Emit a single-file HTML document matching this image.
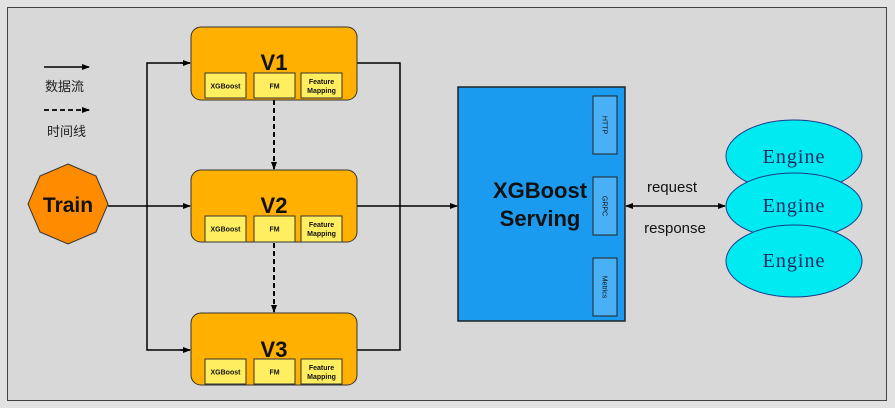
<!DOCTYPE html>
<html><head><meta charset="utf-8"><style>
html,body{margin:0;padding:0;background:#e2e2e2;}
svg{display:block}
</style></head><body>
<svg width="895" height="408" viewBox="0 0 895 408" xmlns="http://www.w3.org/2000/svg" font-family="Liberation Sans, Noto Sans CJK SC, sans-serif">
<defs>
<marker id="a" markerWidth="8" markerHeight="8" refX="7" refY="4" orient="auto" markerUnits="userSpaceOnUse"><path d="M0,1 L8,4 L0,7 Z" fill="#000"/></marker>
<marker id="b" markerWidth="8" markerHeight="8" refX="1" refY="4" orient="auto" markerUnits="userSpaceOnUse"><path d="M8,1 L0,4 L8,7 Z" fill="#000"/></marker>
</defs>
<rect x="0" y="0" width="895" height="408" fill="#e2e2e2"/>
<rect x="7.5" y="7.5" width="879" height="393" fill="#d8d8d8" stroke="#444" stroke-width="1"/>
<line x1="44" y1="67" x2="89" y2="67" stroke="#000" stroke-width="1.5" marker-end="url(#a)"/>
<text x="45" y="91" font-size="13" fill="#222">数据流</text>
<line x1="44" y1="110" x2="89" y2="110" stroke="#000" stroke-width="1.8" stroke-dasharray="5,3" marker-end="url(#a)"/>
<text x="47" y="136" font-size="13" fill="#222">时间线</text>
<g stroke="#000" stroke-width="1.5" fill="none">
<line x1="108" y1="206" x2="147" y2="206"/>
<polyline points="190,63 147,63 147,350 190,350"/>
<line x1="147" y1="206" x2="190" y2="206" marker-end="url(#a)"/>
<line x1="180" y1="63" x2="190" y2="63" marker-end="url(#a)"/>
<line x1="180" y1="350" x2="190" y2="350" marker-end="url(#a)"/>
<polyline points="357,63 400,63 400,350 357,350"/>
<line x1="357" y1="206" x2="457" y2="206" marker-end="url(#a)"/>
<line x1="274" y1="100" x2="274" y2="169" stroke-width="2" stroke-dasharray="5,3" marker-end="url(#a)"/>
<line x1="274" y1="243" x2="274" y2="312" stroke-width="2" stroke-dasharray="5,3" marker-end="url(#a)"/>
<line x1="626" y1="206" x2="725" y2="206" marker-start="url(#b)" marker-end="url(#a)"/>
</g>
<polygon points="68,164 96,176 108,204 96,232 68,244 40,232 28,204 40,176" fill="#ff8c00" stroke="#333" stroke-width="1"/>
<text x="68" y="212" font-size="21" font-weight="bold" text-anchor="middle" fill="#111">Train</text>
<g font-size="7" font-weight="bold" text-anchor="middle" fill="#111">
<rect x="191" y="27" width="166" height="73" rx="10" fill="#ffb000" stroke="#333"/>
<text x="274" y="70" font-size="22" font-weight="bold">V1</text>
<rect x="205" y="73" width="41" height="25" fill="#ffee60" stroke="#333"/><text x="225.5" y="88.5">XGBoost</text>
<rect x="254" y="73" width="41" height="25" fill="#ffee60" stroke="#333"/><text x="274.5" y="88.5">FM</text>
<rect x="301" y="73" width="41" height="25" fill="#ffee60" stroke="#333"/><text x="321.5" y="84">Feature</text><text x="321.5" y="93">Mapping</text>
<rect x="191" y="170" width="166" height="72" rx="10" fill="#ffb000" stroke="#333"/>
<text x="274" y="213" font-size="22" font-weight="bold">V2</text>
<rect x="205" y="216" width="41" height="26" fill="#ffee60" stroke="#333"/><text x="225.5" y="231.5">XGBoost</text>
<rect x="254" y="216" width="41" height="26" fill="#ffee60" stroke="#333"/><text x="274.5" y="231.5">FM</text>
<rect x="301" y="216" width="41" height="26" fill="#ffee60" stroke="#333"/><text x="321.5" y="227">Feature</text><text x="321.5" y="236">Mapping</text>
<rect x="191" y="313" width="166" height="72" rx="10" fill="#ffb000" stroke="#333"/>
<text x="274" y="357" font-size="22" font-weight="bold">V3</text>
<rect x="205" y="359" width="41" height="25" fill="#ffee60" stroke="#333"/><text x="225.5" y="374.5">XGBoost</text>
<rect x="254" y="359" width="41" height="25" fill="#ffee60" stroke="#333"/><text x="274.5" y="374.5">FM</text>
<rect x="301" y="359" width="41" height="25" fill="#ffee60" stroke="#333"/><text x="321.5" y="370">Feature</text><text x="321.5" y="379">Mapping</text>
</g>
<rect x="458" y="87" width="167" height="234" fill="#1a9bf0" stroke="#222" stroke-width="1.5"/>
<text x="540" y="198" font-size="22" font-weight="bold" text-anchor="middle" fill="#111">XGBoost</text>
<text x="540" y="226" font-size="22" font-weight="bold" text-anchor="middle" fill="#111">Serving</text>
<g font-size="7" fill="#111" text-anchor="middle">
<rect x="593" y="96" width="24" height="58" fill="#4ab0f5" stroke="#222"/>
<text transform="translate(602.5,125) rotate(90)">HTTP</text>
<rect x="593" y="177" width="24" height="58" fill="#4ab0f5" stroke="#222"/>
<text transform="translate(602.5,206) rotate(90)">GRPC</text>
<rect x="593" y="258" width="24" height="58" fill="#4ab0f5" stroke="#222"/>
<text transform="translate(602.5,287) rotate(90)">Metrics</text>
</g>
<text x="672" y="192" font-size="15" text-anchor="middle" fill="#111">request</text>
<text x="675" y="233" font-size="15" text-anchor="middle" fill="#111">response</text>
<g fill="#00eaf2" stroke="#1a3a8a" stroke-width="1">
<ellipse cx="794" cy="156" rx="68" ry="36"/>
<ellipse cx="794" cy="206" rx="68" ry="33"/>
<ellipse cx="794" cy="261" rx="68" ry="36"/>
</g>
<g font-family="Liberation Serif, serif" font-size="20" text-anchor="middle" fill="#1a2a60" letter-spacing="1">
<text x="794" y="163">Engine</text>
<text x="794" y="212">Engine</text>
<text x="794" y="267">Engine</text>
</g>
</svg>
</body></html>
